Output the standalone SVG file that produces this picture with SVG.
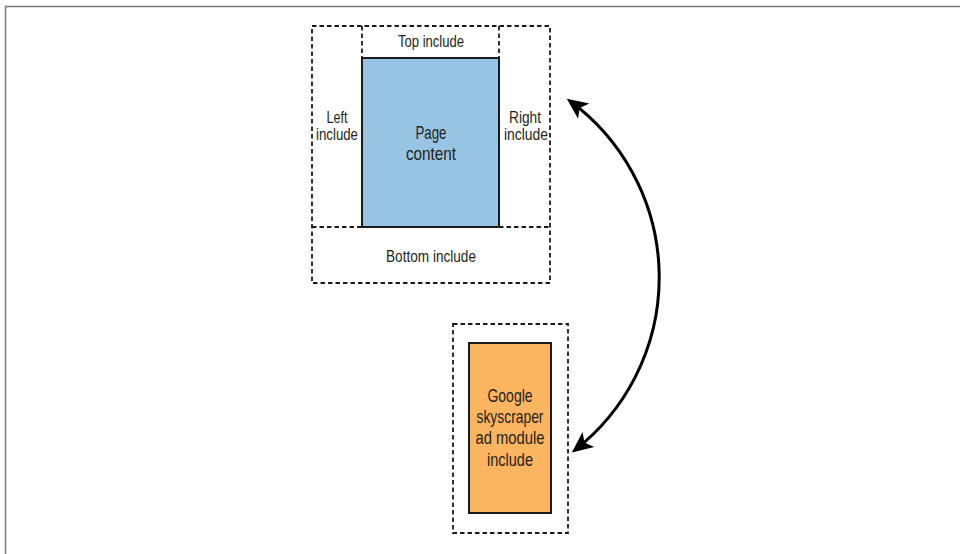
<svg xmlns="http://www.w3.org/2000/svg" width="960" height="554" viewBox="0 0 960 554">
  <style>
    .frame { stroke: #7a7a7a; stroke-width: 1.5; fill: none; }
    .dash { stroke: #1a1a1a; stroke-width: 1.8; stroke-dasharray: 4.5 3; fill: none; }
    .solid { stroke: #1a1a1a; stroke-width: 2; }
    .lbl { font-family: "Liberation Sans Narrow", "Liberation Sans", Arial, sans-serif; fill: #231f20; text-anchor: middle; }
    .s16 { font-size: 16.5px; }
    .s18 { font-size: 18.5px; }
    .link { stroke: #000; stroke-width: 3; fill: none; }
  </style>
  <defs>
    <marker id="head" markerUnits="userSpaceOnUse" markerWidth="22" markerHeight="22" viewBox="0 0 22 22" refX="17" refY="11" orient="auto-start-reverse">
      <path d="M0,1.5 L21,11 L0,20.5 L5,11 Z" fill="#000"/>
    </marker>
  </defs>

  <rect width="960" height="554" fill="#fff"/>
  <!-- page frame -->
  <path class="frame" d="M5.5,554 V6.5 H960"/>

  <!-- page layout -->
  <g id="layout">
    <rect class="dash" x="312" y="26" width="238" height="257"/>
    <line class="dash" x1="362" y1="26" x2="362" y2="58"/>
    <line class="dash" x1="499" y1="26" x2="499" y2="58"/>
    <line class="dash" x1="312" y1="227" x2="362" y2="227"/>
    <line class="dash" x1="499" y1="227" x2="550" y2="227"/>
  </g>

  <g id="top-include">
    <text class="lbl s16" x="431" y="47" textLength="66" lengthAdjust="spacingAndGlyphs">Top include</text>
  </g>

  <g id="left-include">
    <text class="lbl s16" x="337" y="123" textLength="21" lengthAdjust="spacingAndGlyphs">Left</text>
    <text class="lbl s16" x="337" y="140" textLength="42" lengthAdjust="spacingAndGlyphs">include</text>
  </g>

  <g id="right-include">
    <text class="lbl s16" x="525" y="123" textLength="32" lengthAdjust="spacingAndGlyphs">Right</text>
    <text class="lbl s16" x="526" y="140" textLength="44" lengthAdjust="spacingAndGlyphs">include</text>
  </g>

  <g id="page-content">
    <rect x="362" y="58" width="137" height="169" fill="#99c5e4" class="solid"/>
    <text class="lbl s18" x="431" y="139" textLength="31" lengthAdjust="spacingAndGlyphs">Page</text>
    <text class="lbl s18" x="431" y="160" textLength="50" lengthAdjust="spacingAndGlyphs">content</text>
  </g>

  <g id="bottom-include">
    <text class="lbl s16" x="431" y="262" textLength="90" lengthAdjust="spacingAndGlyphs">Bottom include</text>
  </g>

  <!-- ad module -->
  <g id="ad-module">
    <rect class="dash" x="453" y="324" width="115" height="209"/>
    <rect x="469" y="343" width="82" height="170" fill="#fbb45f" class="solid"/>
    <text class="lbl s18" x="510" y="402" textLength="45" lengthAdjust="spacingAndGlyphs">Google</text>
    <text class="lbl s18" x="510" y="423" textLength="67" lengthAdjust="spacingAndGlyphs">skyscraper</text>
    <text class="lbl s18" x="510" y="444" textLength="69" lengthAdjust="spacingAndGlyphs">ad module</text>
    <text class="lbl s18" x="510" y="466" textLength="46" lengthAdjust="spacingAndGlyphs">include</text>
  </g>

  <!-- connectors -->
  <g id="connectors">
    <path class="link" d="M570,101 A219,219 0 0 1 575,450" marker-start="url(#head)" marker-end="url(#head)"/>
  </g>
</svg>
